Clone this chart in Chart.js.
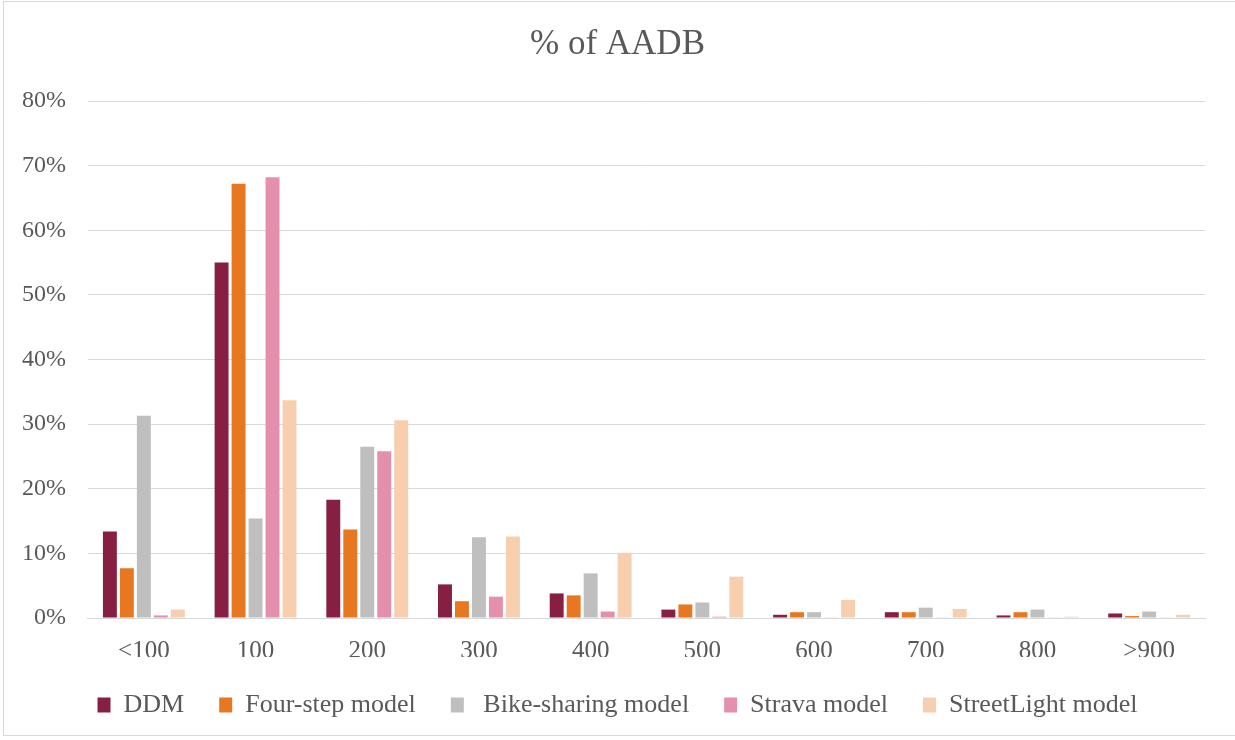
<!DOCTYPE html>
<html>
<head>
<meta charset="utf-8">
<script src="https://cdn.jsdelivr.net/npm/chart.js@4.4.0/dist/chart.umd.min.js"></script>
<style>
  html, body { margin: 0; padding: 0; background: #fff; }
  #frame {
    position: absolute; left: 3px; top: 1px;
    width: 1240px; height: 735px;
    border: 1px solid #d9d9d9; box-sizing: border-box;
  }
  #wrap { position: absolute; left: 0; top: 0; width: 1235px; height: 740px; }
</style>
</head>
<body>
<div id="frame"></div>
<div id="wrap"><canvas id="c"></canvas></div>
<script>
// categories (AADB bins)
const labels = ['<100', '100', '200', '300', '400', '500', '600', '700', '800', '>900'];

// % of AADB per model
const ddm         = [13.4, 55.0, 18.3, 5.2, 3.8, 1.3, 0.5, 0.9, 0.4, 0.7];
const fourStep    = [7.7, 67.2, 13.7, 2.6, 3.5, 2.1, 0.9, 0.9, 0.9, 0.3];
const bikeSharing = [31.3, 15.4, 26.5, 12.5, 6.9, 2.4, 0.9, 1.6, 1.3, 1.0];
const strava      = [0.4, 68.2, 25.8, 3.3, 1.0, 0.2, 0.1, 0.1, 0.1, 0.1];
const streetLight = [1.3, 33.7, 30.6, 12.6, 10.1, 6.4, 2.8, 1.4, 0.2, 0.5];

const yTicks = [0, 10, 20, 30, 40, 50, 60, 70, 80];

const FONT = '"Liberation Serif", "Times New Roman", serif';
const TXT = '#595959';

function ds(label, data, color) {
  return {
    label, data,
    backgroundColor: color,
    borderWidth: 0,
    categoryPercentage: 0.76,
    barPercentage: 0.82
  };
}

new Chart(document.getElementById('c'), {
  type: 'bar',
  data: {
    labels,
    datasets: [
      ds('DDM', ddm, '#861F41'),
      ds('Four-step model', fourStep, '#E87722'),
      ds(' Bike-sharing model', bikeSharing, '#BFBFBF'),
      ds('Strava model', strava, '#E48FAB'),
      ds('StreetLight model', streetLight, '#F7CFAE')
    ]
  },
  options: {
    responsive: true,
    maintainAspectRatio: false,
    animation: false,
    layout: { padding: { left: 0, right: 0, top: 16, bottom: 12 } },
    plugins: {
      title: {
        display: true,
        text: '% of AADB',
        color: TXT,
        font: { family: FONT, size: 35, weight: 'normal' },
        padding: { top: 8, bottom: 35 }
      },
      legend: {
        position: 'bottom',
        labels: {
          color: TXT,
          font: { family: FONT, size: 26 },
          boxWidth: 13,
          boxHeight: 15,
          padding: 35
        }
      },
      tooltip: { enabled: false }
    },
    scales: {
      x: {
        grid: { display: false },
        border: { color: '#d9d9d9', width: 1 },
        ticks: { color: TXT, font: { family: FONT, size: 25 }, padding: 10 },
        // keep legend close to the labels (legend padding is large for spacing)
        afterFit: s => { s.height -= 19; }
      },
      y: {
        min: 0, max: 80,
        afterBuildTicks: axis => { axis.ticks = yTicks.map(v => ({ value: v })); },
        grid: { color: '#d9d9d9', lineWidth: 1, drawTicks: false },
        border: { display: false },
        ticks: {
          color: TXT,
          font: { family: FONT, size: 24 },
          padding: 22,
          callback: v => v + '%'
        }
      },
      // empty right gutter so title/legend stay centred on full width
      gutter: {
        position: 'right',
        grid: { display: false },
        border: { display: false },
        ticks: { display: false },
        afterFit: s => { s.width = 30; }
      }
    }
  }
});
</script>
</body>
</html>
